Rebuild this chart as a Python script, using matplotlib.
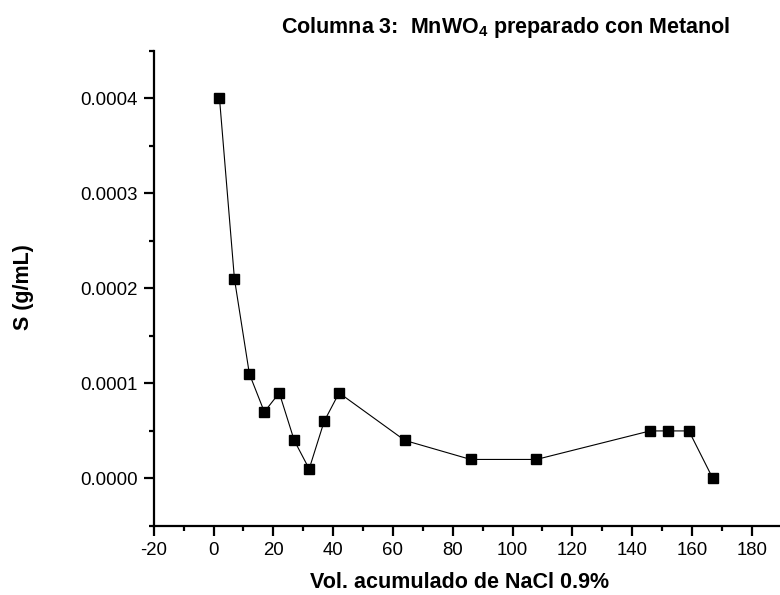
import matplotlib
matplotlib.use("Agg")
import matplotlib.pyplot as plt
from matplotlib.ticker import MultipleLocator, FormatStrFormatter

plt.rcParams['font.family'] = ['Liberation Sans', 'DejaVu Sans']
plt.rcParams['mathtext.fontset'] = 'custom'
plt.rcParams['mathtext.rm'] = 'Liberation Sans'
plt.rcParams['mathtext.bf'] = 'Liberation Sans:bold'
plt.rcParams['axes.unicode_minus'] = False

vol = [2, 7, 12, 17, 22, 27, 32, 37, 42, 64, 86, 108, 146, 152, 159, 167]
s_vals = [0.0004, 0.00021, 0.00011, 0.00007, 0.00009, 0.00004, 0.00001, 0.00006,
          0.00009, 0.00004, 0.00002, 0.00002, 0.00005, 0.00005, 0.00005, 0.0]

title = r"Columna 3:  MnWO$_\mathbf{4}$ preparado con Metanol"
xlabel = "Vol. acumulado de NaCl 0.9%"
ylabel = "S (g/mL)"

W, H = 780, 595
fig = plt.figure(figsize=(W / 100, H / 100), dpi=100)
left, right = 153.7, 781.6
top, bottom = 50.6, 526.0
ax = fig.add_axes([left / W, (H - bottom) / H, (right - left) / W, (bottom - top) / H])

ax.plot(vol, s_vals, color='black', linewidth=0.8, marker='s', markersize=6.8,
        markerfacecolor='black', markeredgecolor='black', clip_on=False)

ax.set_xlim(-20, 190)
ax.set_ylim(-0.00005, 0.00045)
ax.xaxis.set_major_locator(MultipleLocator(20))
ax.xaxis.set_minor_locator(MultipleLocator(10))
ax.yaxis.set_major_locator(MultipleLocator(0.0001))
ax.yaxis.set_minor_locator(MultipleLocator(0.00005))
ax.yaxis.set_major_formatter(FormatStrFormatter('%.4f'))
ax.set_xticks(range(-20, 181, 20))

for sp in ['top', 'right']:
    ax.spines[sp].set_visible(False)
for sp in ['left', 'bottom']:
    ax.spines[sp].set_linewidth(1.6)

ax.tick_params(which='major', direction='out', length=7.5, width=1.6, labelsize=13.4, pad=4)
ax.tick_params(which='minor', direction='out', length=3.6, width=1.6)

fig.text(506 / W, 1 - 27 / H, title, ha='center', va='center', fontsize=15.5, fontweight='bold')
fig.text(460 / W, 1 - 583 / H, xlabel, ha='center', va='center', fontsize=15.5, fontweight='bold')
fig.text(23 / W, 1 - 287 / H, ylabel, ha='center', va='center', rotation=90, fontsize=15.5,
         fontweight='bold')

fig.savefig('out.png', dpi=100)
